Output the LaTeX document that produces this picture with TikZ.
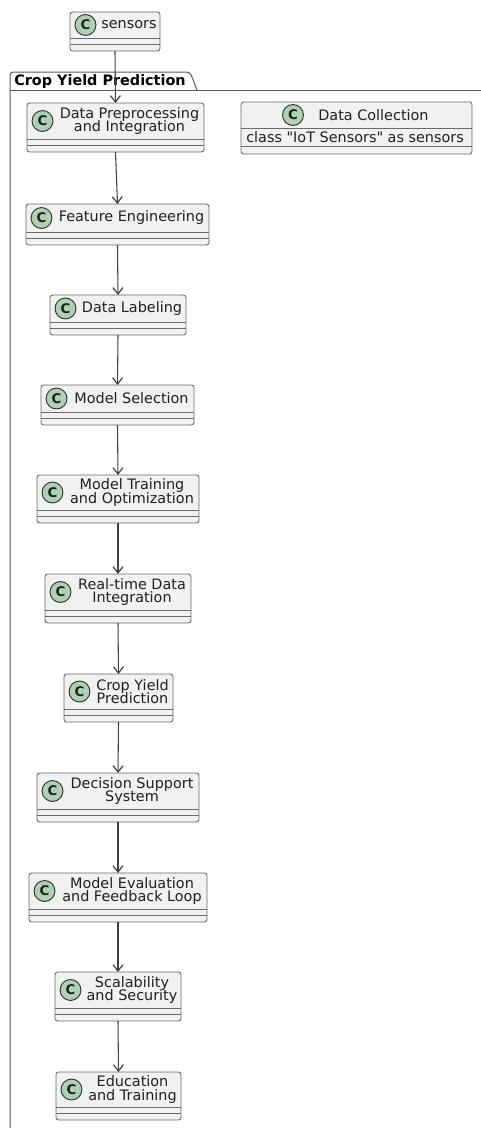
\documentclass[tikz,border=0pt]{standalone}
\usepackage{fontspec}
\setmainfont{DejaVu Sans}
\setsansfont{DejaVu Sans}
\newfontfamily\attrfont[Ligatures=ResetAll]{DejaVu Sans}
\usetikzlibrary{arrows.meta,calc}
\definecolor{clsfill}{HTML}{F1F1F1}
\definecolor{clsline}{HTML}{6A6A6A}
\definecolor{spotfill}{HTML}{ADD1B2}
\definecolor{spotline}{HTML}{303030}
\definecolor{arrowcol}{HTML}{404040}
\definecolor{pkgline}{HTML}{5A5A5A}
\definecolor{txt}{HTML}{202020}
\newlength\pxu
\setlength\pxu{0.75pt}
\AtBeginDocument{\lineskiplimit=-5pt}
\tikzset{
  cls/.style={draw=clsline, fill=clsfill, rounded corners=2pt, line width=0.7pt, inner sep=0pt, outer sep=0pt},
  comp/.style={draw=clsline, line width=0.7pt},
  spot/.style={circle, draw=spotline, fill=spotfill, minimum size=15.7pt, inner sep=0pt, line width=0.7pt,
    font=\fontsize{10}{10}\selectfont\bfseries, text=txt},
  lbl/.style={inner sep=0pt, align=center, text=txt,
    font=\fontsize{10.8}{10.1}\selectfont},
  attr/.style={inner sep=0pt, text=txt, font=\attrfont\fontsize{10.8}{10.1}\selectfont},
  pkg/.style={draw=pkgline, line width=0.75pt},
  pkglbl/.style={inner sep=0pt, text=black, font=\fontsize{10.8}{12}\selectfont\bfseries},
  flow/.style={draw=arrowcol, line width=0.8pt, -{Straight Barb[length=4.8pt,width=7.5pt,line width=0.9pt]}}
}
\newcommand\umlclass[6]{%
  \node[cls, minimum width=#4*\pxu, minimum height=#5*\pxu, anchor=north] (#1) at (#2,#3) {};
  \draw[comp] ([yshift=13*\pxu]#1.south west) -- ([yshift=13*\pxu]#1.south east);
  \draw[comp] ([yshift=6.5*\pxu]#1.south west) -- ([yshift=6.5*\pxu]#1.south east);
  \node[spot] (#1-c) at ([xshift=15.5*\pxu, yshift={-(#5-13)/2*\pxu}]#1.north west) {C};
  \node[lbl] (#1-t) at ([xshift=14*\pxu, yshift={-(#5-13)/2*\pxu}]#1.north) {#6};
}
\begin{document}
\begin{tikzpicture}[x=0.75pt, y=-0.75pt]
\useasboundingbox (0,0) rectangle (480,1128);
% package frame
\draw[pkg, rounded corners=2.5pt] (10,1130) -- (10,72) -- (190,72) -- (197,90);
\draw[pkg] (10,90) -- (481,90);
\node[pkglbl, anchor=west] (pkgname) at (14,81.5) {Crop Yield Prediction};

% classes
\umlclass{sen}{115}{12}{90}{39}{sensors}
\umlclass{dp}{115.5}{103}{177}{49}{Data Preprocessing\\and Integration}
\umlclass{fe}{117.5}{204}{183}{41}{Feature Engineering}
\umlclass{dl}{118}{295}{136}{40}{Data Labeling}
\umlclass{ms}{117.5}{385}{153}{40}{Model Selection}
\umlclass{mt}{118}{475}{162}{48}{Model Training\\and Optimization}
\umlclass{rt}{118}{574}{146}{49}{Real-time Data\\Integration}
\umlclass{cy}{118.5}{674}{109}{48}{Crop Yield\\Prediction}
\umlclass{ds}{118}{773}{162}{49}{Decision Support\\System}
\umlclass{me}{118}{873}{178}{49}{Model Evaluation\\and Feedback Loop}
\umlclass{sc}{118}{972}{126}{49}{Scalability\\and Security}
\umlclass{ed}{118.5}{1072}{125}{48}{Education\\and Training}

% Data Collection
\node[cls, minimum width=231*\pxu, minimum height=52*\pxu, anchor=north] (dc) at (356.5,102) {};
\draw[comp] ([yshift=-26*\pxu]dc.north west) -- ([yshift=-26*\pxu]dc.north east);
\draw[comp] ([yshift=8*\pxu]dc.south west) -- ([yshift=8*\pxu]dc.south east);
\node[spot] (dc-c) at (293,115) {C};
\node[lbl] (dc-t) at (373.5,115) {Data Collection};
\node[attr, anchor=west] (dc-a) at (246,137) {class "IoT Sensors" as sensors};

% connectors
\draw[flow] (sen.south) -- (dp.north);
\draw[flow] (dp.south) -- (fe.north);
\draw[flow] (fe.south) -- (dl.north);
\draw[flow] (dl.south) -- (ms.north);
\draw[flow] (ms.south) -- (mt.north);
\draw[flow] (mt.south) -- (rt.north);
\draw[flow] (rt.south) -- (cy.north);
\draw[flow] (cy.south) -- (ds.north);
\draw[flow] (ds.south) -- (me.north);
\draw[flow] (me.south) -- (sc.north);
\draw[flow] (sc.south) -- (ed.north);
\end{tikzpicture}
\end{document}
